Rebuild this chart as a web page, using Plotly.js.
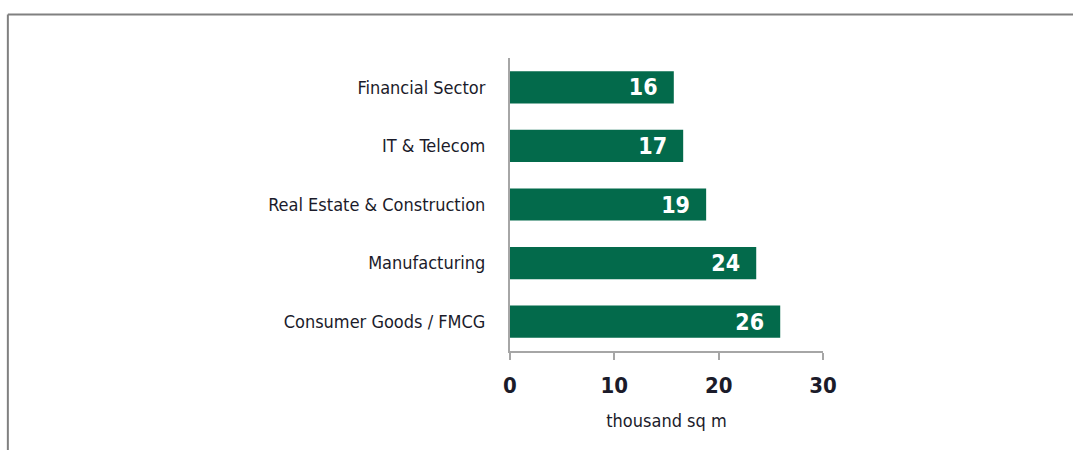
<!DOCTYPE html>
<html>
<head>
<meta charset="utf-8">
<script src="https://cdn.plot.ly/plotly-3.0.1.min.js"></script>
<style>
  html, body { margin: 0; padding: 0; background: #ffffff; }
  #chart { width: 1073px; height: 450px; }
  #chart text { font-stretch: condensed !important; }
</style>
</head>
<body>
<div id="chart"></div>
<script>
// Data (thousand sq m)
const categories = ["Financial Sector", "IT & Telecom", "Real Estate & Construction", "Manufacturing", "Consumer Goods / FMCG"];
const values = [15.7, 16.6, 18.8, 23.6, 25.9];
const valueLabels = ["16", "17", "19", "24", "26"];
const xTickValues = [0, 10, 20, 30];
const xAxisTitle = "thousand sq m";

const FONT = "Liberation Sans Narrow, DejaVu Sans Condensed, DejaVu Sans, sans-serif";
const PAD = "\u00a0\u00a0";

const trace = {
  type: "bar",
  orientation: "h",
  x: values,
  y: categories,
  text: valueLabels.map(function (t) { return "<b>" + t + "</b>" + PAD; }),
  textposition: "inside",
  insidetextanchor: "end",
  textangle: 0,
  insidetextfont: { family: FONT, size: 23, color: "#ffffff" },
  marker: { color: "#036a4b", line: { width: 0 } },
  hoverinfo: "skip",
  cliponaxis: false
};

// plot area: x from 510 to 822.6 px, y from 58.3 to 350.7 px
const plotL = 510, plotR = 822.6, plotT = 58.3, plotB = 350.7;
const pw = plotR - plotL, ph = plotB - plotT;
const px = function (p) { return (p - plotL) / pw; };
const py = function (p) { return (plotB - p) / ph; };

const layout = {
  width: 1073,
  height: 450,
  margin: { l: plotL, r: 1073 - plotR, t: plotT, b: 450 - plotB, pad: 0 },
  paper_bgcolor: "#ffffff",
  plot_bgcolor: "#ffffff",
  showlegend: false,
  bargap: 0.45,
  font: { family: FONT, color: "#1b1b2a" },
  xaxis: {
    range: [0, 30],
    tickvals: xTickValues,
    ticktext: xTickValues.map(function (v) { return "<b>" + v + "</b>"; }),
    showgrid: false,
    zeroline: false,
    showline: true,
    linecolor: "#a6a6a6",
    linewidth: 2,
    ticks: "outside",
    ticklen: 7,
    tickwidth: 2,
    tickcolor: "#a6a6a6",
    tickfont: { family: FONT, size: 22, color: "#1b1b2a" },
    ticklabelstandoff: 7,
    fixedrange: true,
    title: { text: xAxisTitle, font: { family: FONT, size: 18, color: "#1b1b2a" }, standoff: 17 }
  },
  yaxis: {
    type: "category",
    autorange: "reversed",
    showgrid: false,
    zeroline: false,
    showline: true,
    linecolor: "#a6a6a6",
    linewidth: 2,
    ticks: "",
    tickfont: { family: FONT, size: 18, color: "#1b1b2a" },
    ticklabelstandoff: 19,
    fixedrange: true
  },
  shapes: [
    { type: "line", xref: "paper", yref: "paper", x0: px(8.5), x1: px(1080), y0: py(15), y1: py(15), line: { color: "#808080", width: 2 } },
    { type: "line", xref: "paper", yref: "paper", x0: px(8.5), x1: px(8.5), y0: py(15), y1: py(460), line: { color: "#808080", width: 2 } }
  ]
};

Plotly.newPlot("chart", [trace], layout, { displayModeBar: false, staticPlot: true });
</script>
</body>
</html>
